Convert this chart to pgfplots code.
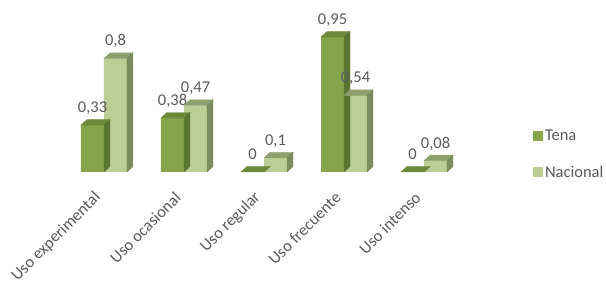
\documentclass[border=0pt]{standalone}
\usepackage{fontspec}
\setmainfont{Carlito}
\usepackage{pgfplots}
\pgfplotsset{compat=1.18}
\definecolor{tF}{HTML}{86A44A}
\definecolor{tT}{HTML}{6C8A3A}
\definecolor{tS}{HTML}{5A7530}
\definecolor{nF}{HTML}{BBCE95}
\definecolor{nT}{HTML}{8FA06F}
\definecolor{nS}{HTML}{7C8B5D}
\definecolor{lab}{HTML}{595959}
\pgfdeclareplotmark{nomark}{}
\newcommand{\lf}{\fontsize{16.5}{19}\selectfont}
\begin{document}
\begin{tikzpicture}
\path[use as bounding box] (-64pt,-116pt) rectangle (542pt,172pt);
\begin{axis}[
  at={(0,0)}, anchor=south west,
  x=80pt, y=142pt,
  xmin=-0.5, xmax=4.5, ymin=0, ymax=1,
  clip=false,
  axis line style={draw=none},
  major tick length=0pt,
  ytick=\empty,
  xtick={0,...,4},
  xticklabels={Uso experimental, Uso ocasional, Uso regular, Uso frecuente, Uso intenso},
  xticklabel style={font=\lf, text=lab, inner sep=0pt, xshift=-6pt, yshift=-23pt, rotate=45, anchor=east},
  /pgf/number format/.cd, use comma, fixed, precision=2, assume math mode=true, /pgfplots/.cd,
  myleg/.style={legend image code/.code={\draw[##1, draw=none] (0pt,-5pt) rectangle (10pt,5pt);}},
  labs/.style={nodes near coords, every node near coord/.append style={font=\lf, text=lab, anchor=base, yshift=12.5pt, xshift=#1}},
  legend style={at={(axis description cs:1.172,0.315)}, anchor=north west, draw=none, fill=none,
    font=\lf, text=lab, inner sep=0pt, row sep=20pt},
  legend cell align=left,
]
\addplot[ybar, bar width=23pt, bar shift=-11.5pt, draw=none, fill=tF, labs=-11.5pt, myleg]
  coordinates {(0,0.33) (1,0.38) (2,0) (3,0.95) (4,0)};
\addplot[forget plot, scatter, only marks, mark=nomark,
  visualization depends on={rawy \as \ry},
  scatter/@pre marker code/.code={%
    \pgfmathsetmacro\H{\ry*142}%
    \fill[tT] (-23pt,0pt) -- (0pt,0pt) -- (6pt,5.5pt) -- (-17pt,5.5pt) -- cycle;
    \fill[tS] (0pt,0pt) -- (6pt,5.5pt) -- (6pt,{(5.5-\H)*1pt}) -- (0pt,{-\H*1pt}) -- cycle;
  },
  scatter/@post marker code/.code={}]
  coordinates {(0,0.33) (1,0.38) (2,0) (3,0.95) (4,0)};
\addplot[ybar, bar width=23pt, bar shift=11.5pt, draw=none, fill=nF, labs=11.5pt, myleg]
  coordinates {(0,0.8) (1,0.47) (2,0.1) (3,0.54) (4,0.08)};
\addplot[forget plot, scatter, only marks, mark=nomark,
  visualization depends on={rawy \as \ry},
  scatter/@pre marker code/.code={%
    \pgfmathsetmacro\H{\ry*142}%
    \fill[nT] (0pt,0pt) -- (23pt,0pt) -- (29pt,5.5pt) -- (6pt,5.5pt) -- cycle;
    \fill[nS] (23pt,0pt) -- (29pt,5.5pt) -- (29pt,{(5.5-\H)*1pt}) -- (23pt,{-\H*1pt}) -- cycle;
  },
  scatter/@post marker code/.code={}]
  coordinates {(0,0.8) (1,0.47) (2,0.1) (3,0.54) (4,0.08)};
\legend{Tena,Nacional}
\end{axis}
\end{tikzpicture}
\end{document}
